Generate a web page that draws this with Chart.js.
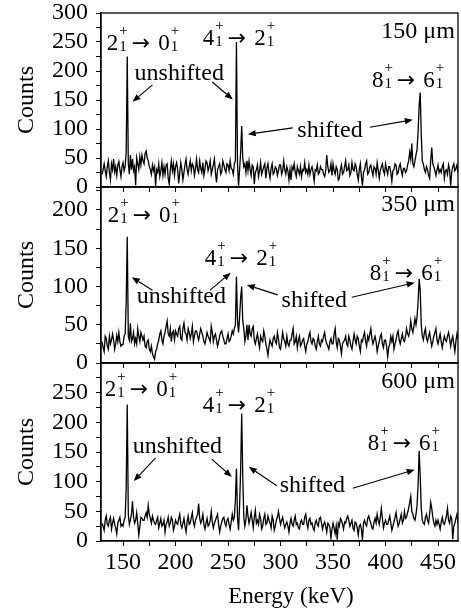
<!DOCTYPE html>
<html>
<head>
<meta charset="utf-8">
<script src="https://cdn.jsdelivr.net/npm/chart.js@4.4.1/dist/chart.umd.min.js"></script>
<style>
  body { margin: 0; background: #fff; }
  #wrap { position: relative; width: 461px; height: 611px; }
  #wrap canvas { position: absolute; left: 0; top: 0; }
</style>
</head>
<body>
<div id="wrap">
  <canvas id="p150" width="461" height="611"></canvas>
  <canvas id="p350" width="461" height="611"></canvas>
  <canvas id="p600" width="461" height="611"></canvas>
</div>
<script>
// gamma spectra, 1 keV bins from 130 to 470 keV (20 bins per row)
const binStart = 130;
const binWidth = 1;

const counts150 = [
  22,30,40,28,18,35,45,25,12,40, 30,48,26,35,20,38,44,30,18,35,
  42,28,35,60,225,40,22,55,30,48, 28,35,3,50,40,30,52,38,55,45,
  40,58,62,50,45,35,30,22,38,28, 35,2,30,25,40,18,28,42,20,35,
  22,38,40,15,5,30,45,28,40,20, 35,42,30,6,25,42,30,12,25,38,
  48,30,22,35,45,28,40,36,20,32, 48,30,25,45,32,25,42,20,30,45,
  42,28,35,45,22,30,38,48,25,8, 30,35,40,22,26,45,38,30,25,40,
  38,28,45,32,30,22,40,45,250,40, 2,30,60,105,50,35,40,25,45,28,
  45,30,20,38,35,5,25,30,38,18, 28,42,22,28,35,40,15,32,40,25,
  15,32,40,22,25,35,32,20,28,38, 38,22,28,45,30,22,35,28,12,30,
  12,35,30,40,25,18,35,28,22,35, 18,30,28,42,25,30,22,38,22,30,
  35,25,10,30,28,38,22,25,35,30, 30,22,18,28,55,35,25,28,40,20,
  40,28,22,35,30,12,15,30,38,22, 25,35,45,28,30,38,20,25,42,30,
  28,40,35,22,12,30,40,18,3,25, 30,40,45,22,25,35,38,28,20,35,
  32,22,42,30,15,28,35,40,28,22, 40,30,22,35,35,25,10,28,30,40,
  38,22,25,35,40,28,20,32,32,25, 28,38,45,60,48,75,40,35,45,55,
  65,95,140,163,90,45,40,30,25,35, 30,20,15,45,68,40,35,28,20,30,
  38,25,30,25,35,40,15,28,30,22, 38,30,2,25,35,40,28,32,38,25,
  20
];
const counts350 = [
  28,20,15,35,32,22,18,35,25,30, 38,30,18,25,36,28,40,28,22,24,
  24,35,38,80,165,35,30,52,28,32, 40,25,32,25,45,35,28,40,35,30,
  35,22,20,28,30,18,15,22,12,8, 5,15,18,25,30,38,42,30,25,35,
  40,48,55,38,35,45,28,40,42,30, 42,38,35,45,48,32,30,45,52,40,
  38,30,45,40,32,38,48,28,36,42, 42,35,30,38,45,40,35,28,25,32,
  40,35,32,28,48,40,28,35,38,30, 22,28,35,40,42,35,30,25,25,32,
  38,28,30,35,42,38,45,50,113,55, 40,60,85,100,55,45,28,35,50,30,
  50,38,35,45,48,30,25,32,38,28, 20,35,30,28,42,35,25,18,10,22,
  30,25,22,32,35,28,25,40,32,20, 18,28,40,32,28,22,35,25,22,30,
  30,38,45,25,28,35,20,30,35,22, 25,30,32,22,15,25,28,35,40,28,
  25,32,30,22,18,28,35,25,22,30, 28,35,40,30,25,22,18,28,32,25,
  25,38,45,28,20,32,30,22,12,25, 28,30,35,25,22,35,30,22,18,28,
  38,30,25,35,32,22,15,30,28,35, 40,28,22,35,30,38,45,32,25,30,
  35,28,15,22,28,35,38,25,20,30, 30,22,8,20,25,35,28,35,18,25,
  30,38,42,30,25,32,38,30,28,35, 45,38,35,42,55,45,40,48,58,50,
  60,80,110,95,50,35,30,40,45,32, 28,35,40,30,22,28,35,40,45,30,
  25,32,38,28,20,28,35,30,28,35, 40,32,22,30,35,25,15,28,38,32,
  25
];
const counts600 = [
  30,25,18,35,42,28,25,35,40,20, 30,38,28,22,12,30,35,40,25,28,
  25,35,40,90,230,45,28,35,45,67, 40,30,35,48,30,10,25,40,38,35,
  35,42,48,40,60,45,38,30,42,35, 30,28,35,40,22,30,38,25,28,35,
  15,28,32,40,25,30,40,35,18,25, 35,30,28,38,45,28,22,30,38,25,
  15,32,42,28,30,40,48,32,25,35, 40,45,63,38,30,35,45,28,20,30,
  38,25,28,35,50,32,22,30,35,40, 45,28,15,25,32,38,40,30,25,35,
  38,28,20,32,45,35,40,70,122,40, 18,60,120,215,110,40,25,35,60,42,
  30,38,48,35,22,40,52,30,35,28, 45,38,20,25,38,45,28,30,42,35,
  30,22,42,35,18,25,35,40,50,38, 28,35,40,30,22,28,32,25,15,30,
  38,28,25,35,42,28,30,22,20,32, 35,28,28,40,45,30,22,35,38,28,
  30,22,18,30,35,28,25,38,40,30, 20,28,32,25,15,30,28,22,5,20,
  30,22,12,25,2,30,25,38,35,28, 20,32,30,38,42,35,25,30,35,22,
  18,32,30,22,10,25,28,20,2,30, 35,28,25,38,42,35,30,22,20,32,
  38,30,45,35,28,40,55,38,22,30, 35,28,28,35,42,30,18,25,32,40,
  48,35,25,30,38,45,30,35,50,38, 40,48,55,65,75,50,45,38,35,45,
  60,95,152,110,55,35,30,28,40,45, 35,30,45,65,55,40,30,25,35,28,
  35,28,20,32,40,30,28,35,42,55, 35,30,42,38,3,25,30,38,45,30,
  20
];

const xTicks = [150,175,200,225,250,275,300,325,350,375,400,425,450];
const xLabels = [150,200,250,300,350,400,450];
const yTicks150 = [0,25,50,75,100,125,150,175,200,225,250,275,300];
const yTicks350 = [0,25,50,75,100,125,150,175,200,225];
const yTicks600 = [0,25,50,75,100,125,150,175,200,225,250,275];
const yLabels = [0,50,100,150,200,250,300];

// annotations, in data units of each panel
const notes150 = {
  thickness: { text: '150 μm', x: 466, y: 257 },
  transitions: [
    { from: '2', to: '0', x: 134.5, y: 236 },
    { from: '4', to: '2', x: 226, y: 245 },
    { from: '8', to: '6', x: 387, y: 172 }
  ],
  words: [{ text: 'unshifted', x: 161, y: 184 }, { text: 'shifted', x: 316, y: 86 }],
  arrows: [[178, 176, 159, 147], [235, 181, 254.5, 151], [311.6, 102, 268.8, 91], [385, 103, 426, 116]]
};
const notes350 = {
  thickness: { text: '350 μm', x: 466, y: 199 },
  transitions: [
    { from: '2', to: '0', x: 135.4, y: 184 },
    { from: '4', to: '2', x: 227.8, y: 128 },
    { from: '8', to: '6', x: 385, y: 108 }
  ],
  words: [{ text: 'unshifted', x: 163, y: 78 }, { text: 'shifted', x: 301, y: 73 }],
  arrows: [[178, 95, 158.3, 112], [232.6, 95, 252.6, 118], [297.3, 89, 267.8, 102], [367.8, 86, 427.8, 105]]
};
const notes600 = {
  thickness: { text: '600 μm', x: 466, y: 258 },
  transitions: [
    { from: '2', to: '0', x: 132.6, y: 244 },
    { from: '4', to: '2', x: 226, y: 217 },
    { from: '8', to: '6', x: 383, y: 153 }
  ],
  words: [{ text: 'unshifted', x: 159.2, y: 148 }, { text: 'shifted', x: 299.2, y: 83 }],
  arrows: [[181, 140, 160.2, 101], [234.5, 138, 253.6, 108], [296.4, 93, 269.7, 125], [368.8, 89, 427.8, 120]]
};

const serif = '"Liberation Serif", "Times New Roman", serif';
Chart.defaults.font.family = serif;
Chart.defaults.color = '#000';

const mainFont = '23px ' + serif;
const smallFont = '15px ' + serif;
const arrowFont = '22px "DejaVu Sans"';
const wordFont = '24px ' + serif;

function drawLevel(ctx, x, y, spin) {
  ctx.font = mainFont;
  ctx.fillText(spin, x, y);
  x += ctx.measureText(spin).width + 1;
  ctx.font = smallFont;
  ctx.fillText('1', x, y + 1);
  ctx.fillText('+', x, y - 15);
  return x + Math.max(ctx.measureText('1').width, ctx.measureText('+').width);
}

function drawTransition(ctx, x, y, from, to) {
  x = drawLevel(ctx, x, y, from) + 4;
  ctx.font = arrowFont;
  ctx.fillText('→', x, y);
  x += ctx.measureText('→').width + 8;
  drawLevel(ctx, x, y, to);
}

function drawArrow(ctx, x0, y0, x1, y1) {
  const a = Math.atan2(y1 - y0, x1 - x0);
  const len = 8, half = 3.2;
  const bx = x1 - len * Math.cos(a), by = y1 - len * Math.sin(a);
  ctx.beginPath();
  ctx.moveTo(x0, y0);
  ctx.lineTo(bx, by);
  ctx.stroke();
  ctx.beginPath();
  ctx.moveTo(x1, y1);
  ctx.lineTo(bx + half * Math.sin(a), by - half * Math.cos(a));
  ctx.lineTo(bx - half * Math.sin(a), by + half * Math.cos(a));
  ctx.closePath();
  ctx.fill();
}

function notesPlugin(notes) {
  return {
    id: 'notes',
    afterDatasetsDraw(chart) {
      const { ctx, chartArea: a } = chart;
      const px = v => chart.scales.x.getPixelForValue(v);
      const py = v => chart.scales.y.getPixelForValue(v);
      ctx.save();
      ctx.strokeStyle = '#000';
      ctx.fillStyle = '#000';
      ctx.lineWidth = 1.3;
      ctx.strokeRect(a.left, a.top, a.right - a.left, a.bottom - a.top);
      ctx.textBaseline = 'alphabetic';
      ctx.font = wordFont;
      ctx.textAlign = 'right';
      ctx.fillText(notes.thickness.text, px(notes.thickness.x), py(notes.thickness.y));
      ctx.textAlign = 'left';
      notes.words.forEach(w => {
        ctx.font = wordFont;
        ctx.fillText(w.text, px(w.x), py(w.y));
      });
      notes.transitions.forEach(t => drawTransition(ctx, px(t.x), py(t.y), t.from, t.to));
      ctx.lineWidth = 1.1;
      notes.arrows.forEach(([x0, y0, x1, y1]) => drawArrow(ctx, px(x0), py(y0), px(x1), py(y1)));
      ctx.restore();
    }
  };
}

function makePanel(id, counts, yMax, yTicks, notes, area) {
  const bottomAxis = area.showX;
  new Chart(document.getElementById(id), {
    type: 'line',
    data: {
      datasets: [{
        data: counts.map((c, i) => ({ x: binStart + i * binWidth, y: c })),
        borderColor: '#000',
        borderWidth: 1.3,
        pointRadius: 0,
        tension: 0,
        fill: false
      }]
    },
    options: {
      responsive: false,
      animation: false,
      events: [],
      layout: { padding: { left: 0, right: 3, top: area.top, bottom: area.padBottom } },
      plugins: { legend: { display: false }, tooltip: { enabled: false } },
      scales: {
        x: {
          type: 'linear',
          min: 129,
          max: 469,
          afterBuildTicks: s => { s.ticks = xTicks.map(v => ({ value: v })); },
          afterFit: s => { s.height = area.xHeight; s.paddingLeft = 0; s.paddingRight = 0; },
          grid: { drawOnChartArea: false, tickLength: 5, color: '#000', tickWidth: 1 },
          border: { color: '#000', width: 1.3 },
          ticks: {
            display: bottomAxis,
            autoSkip: false,
            maxRotation: 0,
            padding: 2,
            font: { size: 24 },
            callback: v => xLabels.includes(v) ? String(v) : ''
          },
          title: {
            display: bottomAxis,
            // en spaces nudge the title right, as in the original
            text: '\u2002\u2002Energy (keV)',
            font: { size: 23 },
            padding: { top: 0, bottom: 0 }
          }
        },
        y: {
          min: 0,
          max: yMax,
          afterBuildTicks: s => { s.ticks = yTicks.map(v => ({ value: v })); },
          afterFit: s => { s.width = 101; s.paddingTop = 0; s.paddingBottom = 0; },
          grid: { drawOnChartArea: false, tickLength: 5, color: '#000', tickWidth: 1 },
          border: { color: '#000', width: 1.3 },
          ticks: {
            autoSkip: false,
            padding: 8,
            font: { size: 24 },
            callback: v => yLabels.includes(v) ? String(v) : ''
          },
          title: {
            display: true,
            text: 'Counts',
            font: { size: 24 },
            padding: { top: 12, bottom: 0 }
          }
        }
      }
    },
    plugins: [notesPlugin(notes)]
  });
}

makePanel('p150', counts150, 300, yTicks150, notes150, { top: 13, padBottom: 611 - 187 - 8, xHeight: 8, showX: false });
makePanel('p350', counts350, 230, yTicks350, notes350, { top: 187, padBottom: 611 - 363 - 8, xHeight: 8, showX: false });
makePanel('p600', counts600, 300, yTicks600, notes600, { top: 363, padBottom: 0, xHeight: 70, showX: true });
</script>
</body>
</html>
